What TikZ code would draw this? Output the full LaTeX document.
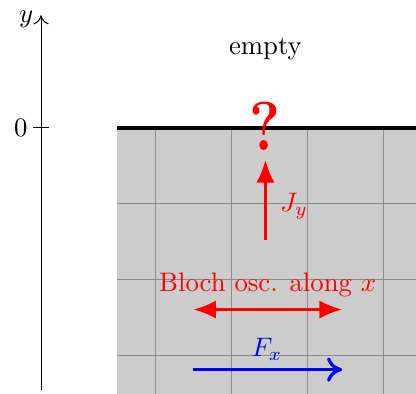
\documentclass[tikz,border=0pt]{standalone}
\usetikzlibrary{arrows.meta}
\definecolor{slab}{gray}{0.8}
\tikzset{
  gridline/.style={draw=black!45, line width=0.4pt},
  redarrow/.style={red, very thick, -{Latex[length=3mm,width=2.4mm]}},
  bluearrow/.style={blue, very thick, -{To[length=2mm,width=3.2mm]}},
}
\begin{document}
\begin{tikzpicture}
\useasboundingbox (-0.54,-3.5) rectangle (4.93,1.68);
% gray region
\fill[slab] (1,-3.5) rectangle (4.93,0);
\foreach \x in {1.5,2.5,3.5,4.5} \draw[gridline] (\x,-3.5) -- (\x,0);
\foreach \y in {-1,-2,-3} \draw[gridline] (1,\y) -- (4.93,\y);
% surface
\draw[line width=1.6pt] (1,0) -- (4.93,0);
% axis
\coordinate (ybot) at (0,-3.45);
\coordinate (ytop) at (0,1.48);
\draw[-{To[length=1.2mm,width=2mm]}] (ybot) -- (ytop);
\node[anchor=east, inner sep=1pt] (ylab) at (-0.06,1.43) {$y$};
\coordinate (t1) at (-0.1,0);
\coordinate (t2) at (0.1,0);
\draw (t1) -- (t2);
\node[anchor=east, inner sep=2pt] (zero) at (-0.1,0) {$0$};
% labels
\node (empty) at (2.95,1.03) {empty};
\node[red, font=\Huge\bfseries, transform shape, xscale=0.88, yscale=1.04] (q) at (2.95,0.02) {?};
% J_y
\coordinate (jstart) at (2.95,-1.47);
\coordinate (jend) at (2.95,-0.42);
\draw[redarrow] (jstart) -- (jend);
\node[red, anchor=west] (jy) at (3.02,-1.03) {$J_y$};
% Bloch
\coordinate (ba) at (2.0,-2.39);
\coordinate (bb) at (3.96,-2.39);
\draw[redarrow, {Latex[length=3mm,width=2.4mm]}-{Latex[length=3mm,width=2.4mm]}] (ba) -- (bb);
\node[red] (bloch) at (2.98,-2.07) {Bloch osc. along $x$};
% F_x
\coordinate (fa) at (2.0,-3.18);
\coordinate (fb) at (3.96,-3.18);
\draw[bluearrow] (fa) -- (fb);
\node[blue] (fx) at (2.97,-2.92) {$F_x$};
\end{tikzpicture}
\end{document}
